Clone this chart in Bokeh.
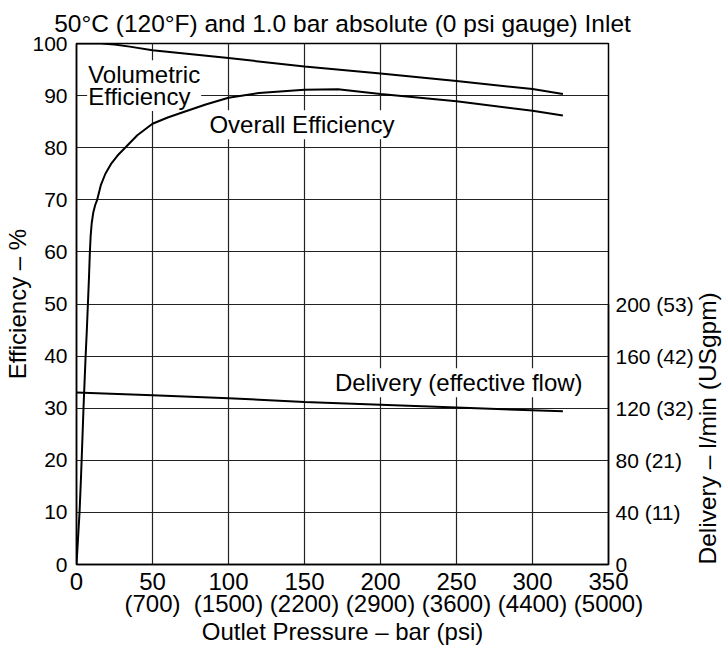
import math
from bokeh.plotting import figure
from bokeh.models import Range1d, LinearAxis, FixedTicker, Label
from bokeh.embed import file_html
from bokeh.resources import INLINE

FONT = "Liberation Sans"

# ---- data ----
pressure_ticks = [0, 50, 100, 150, 200, 250, 300, 350]
psi_labels = ["", "(700)", "(1500)", "(2200)", "(2900)", "(3600)", "(4400)", "(5000)"]
eff_ticks = [0, 10, 20, 30, 40, 50, 60, 70, 80, 90, 100]
flow_ticks = [0, 40, 80, 120, 160, 200]
usgpm_labels = ["", "(11)", "(21)", "(32)", "(42)", "(53)"]

vol_pressure = [0, 16, 25, 35, 50, 100, 150, 200, 250, 300, 320]
vol_eff = [100, 100, 99.8, 99.4, 98.7, 97.2, 95.6, 94.25, 92.8, 91.25, 90.3]

ovr_pressure = [0, 1, 2, 3, 4, 4.6, 5.3, 6, 6.8, 7.5, 8.2, 8.8, 9.3, 10, 11, 12.3, 13.6, 16, 19, 23, 27,
                32, 40, 50, 60, 70, 85, 100, 120, 150, 172, 200, 250, 300, 320]
ovr_eff = [0, 5, 10, 17, 25, 30, 35, 40, 45, 50, 55, 60, 63, 65.5, 67.5, 69, 70, 72.8, 75, 77, 78.5,
           80, 82.4, 84.6, 85.8, 86.8, 88.3, 89.6, 90.5, 91.1, 91.2, 90.3, 88.9, 87.1, 86.2]

del_pressure = [0, 50, 100, 150, 200, 250, 320]
del_lpm = [132, 130, 127.6, 124.8, 122.6, 120.5, 117.6]

title_text = "50°C (120°F) and 1.0 bar absolute (0 psi gauge) Inlet"
right_axis_title = "Delivery – l/min (USgpm)"

BIG = "24px"
SMALL = "21px"

# ---- figure ----
p = figure(frame_width=532, frame_height=521, output_backend="svg", toolbar_location=None,
           x_range=Range1d(0, 350), y_range=Range1d(0, 100),
           min_border_left=76, min_border_right=118, min_border_top=43, min_border_bottom=78,
           x_axis_label="Outlet Pressure – bar (psi)", y_axis_label="Efficiency – %")
p.extra_y_ranges = {"flow": Range1d(0, 400)}

p.title.text = title_text
p.title.align = "center"
p.title.text_font = FONT
p.title.text_font_size = "24.5px"
p.title.text_font_style = "normal"
p.title.text_color = "black"
p.title.standoff = 13

p.outline_line_color = "black"
p.outline_line_width = 1.5

p.xgrid.ticker = FixedTicker(ticks=pressure_ticks)
p.ygrid.ticker = FixedTicker(ticks=eff_ticks)
for g in (p.xgrid, p.ygrid):
    g.grid_line_color = "#222222"
    g.grid_line_width = 1.2

xa = p.xaxis[0]
xa.ticker = FixedTicker(ticks=pressure_ticks)
xa.major_label_overrides = {t: (str(t) + ("\n" + l if l else "")) for t, l in zip(pressure_ticks, psi_labels)}
ya = p.yaxis[0]
ya.ticker = FixedTicker(ticks=eff_ticks)

ra = LinearAxis(y_range_name="flow", ticker=FixedTicker(ticks=flow_ticks), bounds=(0, 200),
                axis_label=right_axis_title)
ra.major_label_overrides = {t: (str(t) + (" " + l if l else "")) for t, l in zip(flow_ticks, usgpm_labels)}
p.add_layout(ra, "right")

for ax in (xa, ya, ra):
    ax.axis_line_color = "black"
    ax.axis_line_width = 1.5
    ax.major_tick_out = 0
    ax.major_tick_in = 0
    ax.minor_tick_out = 0
    ax.minor_tick_in = 0
    ax.major_label_text_font = FONT
    ax.major_label_text_font_size = SMALL
    ax.major_label_text_color = "black"
    ax.axis_label_text_font = FONT
    ax.axis_label_text_font_size = BIG
    ax.axis_label_text_font_style = "normal"
    ax.axis_label_text_color = "black"

xa.major_label_text_font_size = BIG
xa.major_label_standoff = 3
xa.major_label_text_line_height = 0.82
xa.axis_label_standoff = -2
ya.major_label_standoff = 9
ya.axis_label_standoff = -2
ra.major_label_standoff = 7
ra.axis_label_standoff = 11
ra.axis_label_text_font_size = "24.5px"
ra.axis_label_orientation = math.pi / 2
for _val in ("start", "left"):
    try:
        ra.axis_label_align = _val
        break
    except Exception:
        pass

# ---- labels (white boxes under curves) ----
def lab(x, y, text, align="left", baseline="alphabetic"):
    l = Label(x=x, y=y, text=text, text_font=FONT, text_font_size=BIG,
              text_align=align, text_baseline=baseline, text_color="black",
              text_line_height=0.81,
              background_fill_color="white", padding=1, level="underlay")
    p.add_layout(l)

lab(7, 96.8, "Volumetric\nEfficiency", baseline="top")
lab(86.8, 84.4, "Overall Efficiency")
lab(333.6, 34.9, "Delivery (effective flow)", align="right")

# ---- curves ----
p.line(vol_pressure, vol_eff, line_color="black", line_width=2)
p.line(ovr_pressure, ovr_eff, line_color="black", line_width=2)
p.line(del_pressure, del_lpm, line_color="black", line_width=2, y_range_name="flow")

open("out.html", "w").write(file_html(p, INLINE))
